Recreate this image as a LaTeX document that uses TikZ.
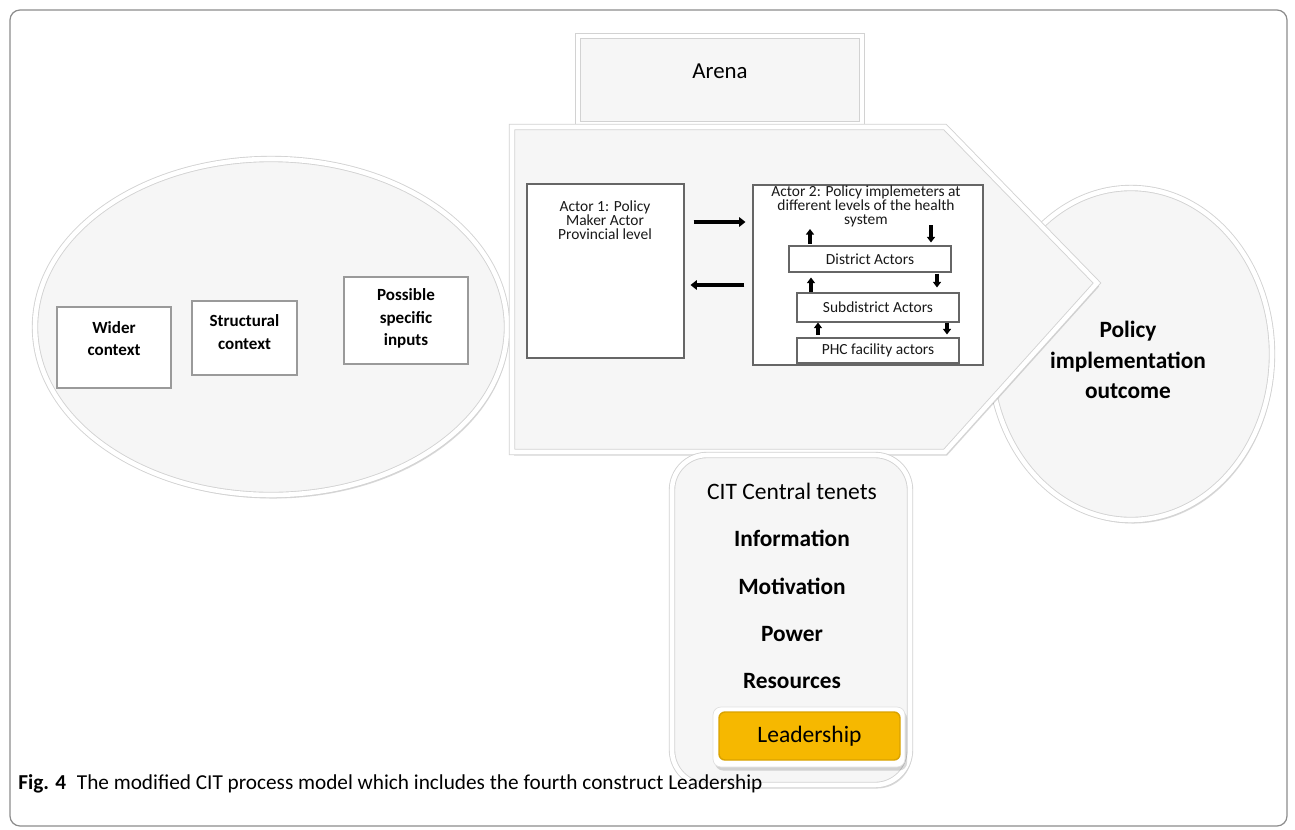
\documentclass[tikz,border=0pt]{standalone}
\usepackage{fontspec}
\setmainfont{Carlito}
\usetikzlibrary{arrows.meta,shadows,shapes.geometric,calc}
\definecolor{shapefill}{HTML}{F6F6F6}
\definecolor{rimgray}{HTML}{D2D2D2}
\definecolor{boxgray}{HTML}{9A9A9A}
\definecolor{leadyellow}{HTML}{F6B800}
\definecolor{leadedge}{HTML}{D9A200}
\definecolor{framegray}{HTML}{8C8C8C}
\begin{document}
\begin{tikzpicture}[x=0.02cm,y=-0.02cm,
  wh/.style 2 args={minimum width=#1*0.02cm,minimum height=#2*0.02cm,inner sep=0pt},
  bevel/.style={fill=shapefill,draw=rimgray,double=white,double distance=2.6pt,line width=0.5pt},
  softshadow/.style={drop shadow={shadow xshift=1.2pt,shadow yshift=-2pt,opacity=0.15,fill=black}},
  ctxbox/.style={draw=boxgray,line width=1pt,fill=white},
  actbox/.style={draw=black!60,line width=0.6pt,fill=white},
  ctxtext/.style={font=\fontsize{9.7}{12.7}\selectfont\bfseries,align=center,inner sep=0pt},
  acttext/.style={font=\fontsize{8.8}{7.9}\selectfont,align=center,inner sep=0pt,text=black!90},
  tenet/.style={font=\fontsize{13.3}{15}\selectfont\bfseries,inner sep=0pt},
  bigarrow/.style={line width=2.3pt,-{Triangle[length=3.6pt,width=5.4pt]}},
  smallarrow/.style={line width=1.8pt,-{Triangle[length=3.2pt,width=4.6pt]}},
]
\useasboundingbox (0,0) rectangle (1295,829);
\fill[white] (0,0) rectangle (1295,829);
\draw[framegray,line width=0.7pt,rounded corners=0.2cm] (10,10) rectangle (1287,826);

% left context ellipse
\node[bevel,softshadow,ellipse,wh={472}{336}] (ctx) at (271,327) {};
% outcome ellipse
\node[bevel,softshadow,ellipse,wh={282}{332}] (out) at (1131,354) {};
\node[align=center,inner sep=0pt,font=\fontsize{13.3}{17.3}\selectfont\bfseries] (outt) at (1128,360)
      {Policy\\implementation\\outcome};
% arena
\node[bevel,softshadow,wh={284}{88}] (arena) at (720,80) {};
\node[font=\fontsize{13}{15}\selectfont,inner sep=0pt] (arenat) at (720,71) {Arena};
% pentagon arrow
\draw[bevel,softshadow] (512,127) -- (945,127) -- (1097,283) -- (945,452) -- (512,452) -- cycle;

% context boxes
\node[ctxbox,wh={114}{81}] (wider) at (114,347.5) {};
\node[ctxtext] (widert) at (114,338.5) {Wider\\context};
\node[ctxbox,wh={105}{74}] (struct) at (244.5,338) {};
\node[ctxtext] (structt) at (244.5,332) {Structural\\context};
\node[ctxbox,wh={124}{87}] (poss) at (406,320.5) {};
\node[ctxtext] (posst) at (406,318.5) {Possible\\specific\\inputs};

% actors
\node[actbox,wh={157}{174}] (a1) at (605.5,271) {};
\node[acttext] (a1t) at (605,220) {Actor 1: Policy\\Maker Actor\\Provincial level};
\node[actbox,wh={230}{180}] (a2) at (868,275) {};
\node[acttext] (a2t) at (866,206) {Actor 2: Policy implemeters at\\different levels of the health\\system};
\node[actbox,wh={162}{26},acttext] (dist) at (870,259) {District Actors};
\node[actbox,wh={162}{29},acttext] (sub) at (878,307.5) {Subdistrict Actors};
\node[actbox,wh={162}{25},acttext] (phc) at (878,350.5) {PHC facility actors};

\coordinate (yA) at (0,222);
\coordinate (yB) at (0,285);
\draw[bigarrow,shorten <=0.18cm,shorten >=0.14cm] (a1.east |- yA) -- (a2.west |- yA);
\draw[bigarrow,shorten <=0.16cm,shorten >=0.12cm] (a2.west |- yB) -- (a1.east |- yB);

\coordinate (u1) at (810,229);
\coordinate (d1) at (931,225);
\coordinate (x2) at (811,0);
\coordinate (x3) at (937,0);
\coordinate (x4) at (818,0);
\coordinate (x5) at (947,0);
\draw[smallarrow,shorten <=0.03cm] (dist.north -| u1) -- (u1);
\draw[smallarrow,shorten >=0.06cm] (d1) -- (dist.north -| d1);
\draw[smallarrow,shorten >=0.1cm] (sub.north -| x2) -- (dist.south -| x2);
\draw[smallarrow,shorten <=0.02cm,shorten >=0.1cm] (dist.south -| x3) -- (sub.north -| x3);
\draw[smallarrow,shorten <=0.05cm] (phc.north -| x4) -- (sub.south -| x4);
\draw[smallarrow,shorten >=0.06cm] (sub.south -| x5) -- (phc.north -| x5);

% CIT central tenets
\node[bevel,softshadow,rounded corners=0.7cm,wh={238}{330}] (cit) at (791,620) {};
\node[font=\fontsize{13.4}{15}\selectfont,inner sep=0pt] (citt) at (792,491) {CIT Central tenets};
\node[tenet] (info) at (792,538) {Information};
\node[tenet] (moti) at (792,586) {Motivation};
\node[tenet] (power) at (792,634) {Power};
\node[tenet] (res) at (792,681) {Resources};
\node[fill=white,draw=black!12,rounded corners=0.16cm,softshadow,wh={192}{60}] (leadw) at (809,737) {};
\node[fill=leadyellow,draw=leadedge,line width=0.8pt,rounded corners=0.12cm,wh={181}{48},
      font=\fontsize{13.4}{15}\selectfont] (lead) at (809.5,736) {Leadership};

% caption
\node[anchor=base west,inner sep=0pt,font=\fontsize{12.1}{13}\selectfont] (cap) at (18,789)
  {\textbf{Fig. 4}\hspace{0.5em}The modified CIT process model which includes the fourth construct Leadership};
\end{tikzpicture}
\end{document}
